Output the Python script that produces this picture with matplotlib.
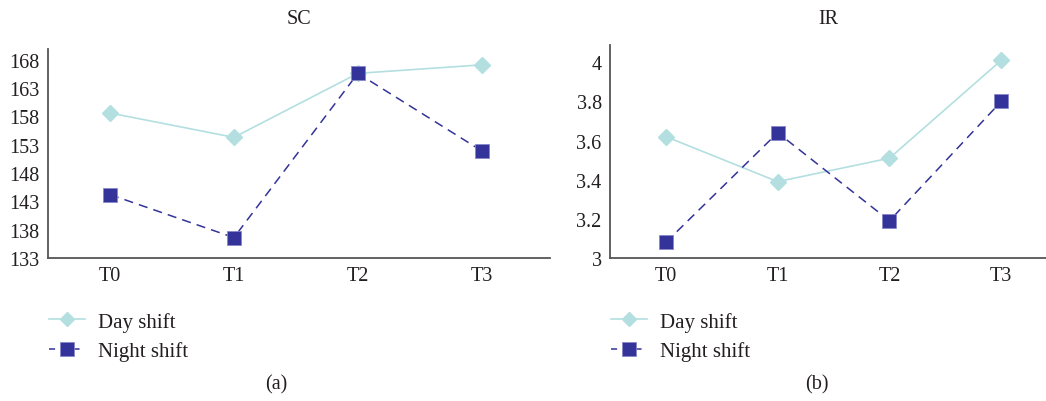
import matplotlib
matplotlib.use("Agg")
import matplotlib.pyplot as plt
from matplotlib.lines import Line2D

plt.rcParams['font.family'] = ['Liberation Serif', 'DejaVu Serif']

categories = ["T0", "T1", "T2", "T3"]
sc_day = [158.6, 154.3, 165.6, 167.1]
sc_night = [144.2, 136.6, 165.6, 151.9]
ir_day = [3.62, 3.39, 3.51, 4.01]
ir_night = [3.08, 3.64, 3.19, 3.80]
sc_ticks = [133, 138, 143, 148, 153, 158, 163, 168]
ir_ticks = [3, 3.2, 3.4, 3.6, 3.8, 4]
ir_ticklabels = ["3", "3.2", "3.4", "3.6", "3.8", "4"]

day_color = "#B3DFE0"
night_color = "#333399"
text_color = "#231f20"

W, H = 1046, 402
fig = plt.figure(figsize=(W / 100, H / 100), dpi=100)

def ax_rect(l, t, r, b):
    return [l / W, 1 - b / H, (r - l) / W, (b - t) / H]

ax1 = fig.add_axes(ax_rect(48, 50, 550, 259))
ax2 = fig.add_axes(ax_rect(610, 46, 1046, 259))

x = list(range(len(categories)))

def style(ax, title, pad):
    for s in ["top", "right"]:
        ax.spines[s].set_visible(False)
    for s in ["left", "bottom"]:
        ax.spines[s].set_color("#555555")
        ax.spines[s].set_linewidth(1.3)
    ax.tick_params(length=0, labelsize=14.5, colors=text_color, pad=6)
    ax.set_xticks(x)
    ax.set_xticklabels(categories)
    ax.set_title(title, fontsize=14.5, color=text_color, pad=pad)

for ax, day, night in [(ax1, sc_day, sc_night), (ax2, ir_day, ir_night)]:
    ax.plot(x, day, color=day_color, lw=1.2, marker="D", markersize=8.5,
            markerfacecolor=day_color, markeredgecolor=day_color, zorder=3)
    ax.plot(x, night, color=night_color, lw=1.1, ls=(0, (6, 4)), marker="s",
            markersize=10, markerfacecolor=night_color,
            markeredgecolor="#8888cc", markeredgewidth=0.6, zorder=4)

style(ax1, "SC", 19)
ax1.set_ylim(133, 169.9)
ax1.set_yticks(sc_ticks)
ax1.set_xlim(-0.5, 3.55)

style(ax2, "IR", 16)
ax2.set_ylim(3, 4.088)
ax2.set_yticks(ir_ticks)
ax2.set_yticklabels(ir_ticklabels)
ax2.set_xlim(-0.5, 3.4)

handles = [
    Line2D([], [], color=day_color, lw=1.2, marker="D", markersize=7,
           markerfacecolor=day_color, markeredgecolor=day_color),
    Line2D([], [], color=night_color, lw=1.1, ls=(0, (4, 4)), marker="s",
           markersize=10, markerfacecolor=night_color, markeredgecolor="#8888cc",
           markeredgewidth=0.6),
]
labels = ["Day shift", "Night shift"]

for lx in [30, 592]:
    fig.legend(handles, labels, loc="upper left",
               bbox_to_anchor=(lx / W, 1 - 294 / H), frameon=False,
               fontsize=15, handlelength=1.75, handletextpad=0.6,
               labelspacing=0.45, labelcolor=text_color)

fig.text(276 / W, 1 - 385 / H, "(a)", ha="center", va="center",
         fontsize=14.5, color=text_color)
fig.text(817 / W, 1 - 385 / H, "(b)", ha="center", va="center",
         fontsize=14.5, color=text_color)

fig.savefig("out.png", dpi=100)
